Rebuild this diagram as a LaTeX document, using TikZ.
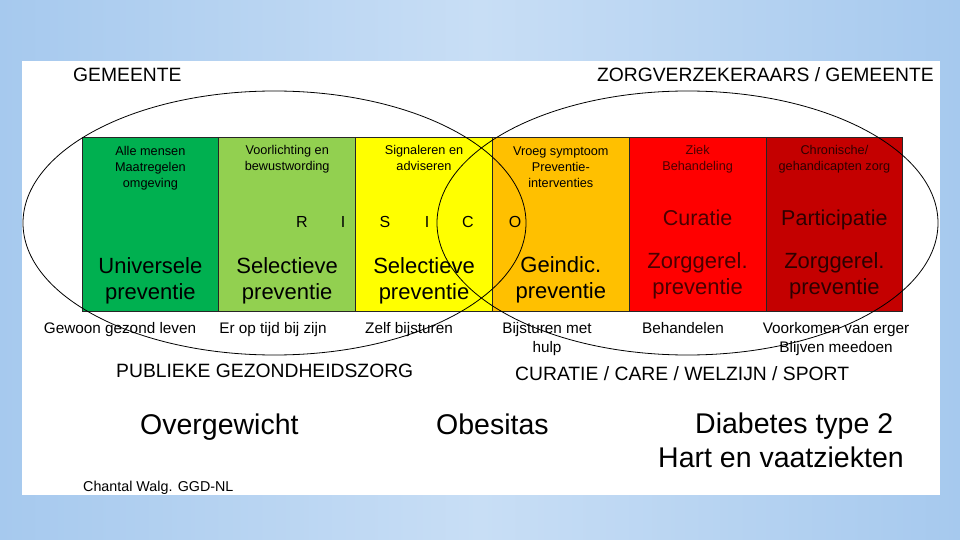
\documentclass[tikz,border=0pt]{standalone}
\usepackage{fontspec}
\setmainfont{Liberation Sans}
\definecolor{skyA}{HTML}{A6C9EE}
\definecolor{skyB}{HTML}{C8DEF5}
\definecolor{c1}{HTML}{00B050}
\definecolor{c2}{HTML}{92D050}
\definecolor{c3}{HTML}{FFFF00}
\definecolor{c4}{HTML}{FFC000}
\definecolor{c5}{HTML}{FF0000}
\definecolor{c6}{HTML}{C40000}
\definecolor{t5}{HTML}{4A0000}
\definecolor{t6}{HTML}{2E0000}
\begin{document}
\begin{tikzpicture}[x=1pt,y=-1pt,
  colbox/.style={draw=black!85, line width=0.8pt, anchor=north west, inner sep=0pt, outer sep=0pt,
                 minimum width=136.8pt, minimum height=174pt},
  toptxt/.style={font=\fontsize{12.7}{16}\selectfont, align=center, anchor=base, inner sep=0pt},
  bigtxt/.style={font=\fontsize{22}{26.5}\selectfont, align=center, anchor=base, inner sep=0pt},
  midtxt/.style={font=\fontsize{21.5}{26}\selectfont, anchor=base, inner sep=0pt},
  letter/.style={font=\fontsize{16}{19}\selectfont, anchor=base, inner sep=0pt},
  lowtxt/.style={font=\fontsize{15.3}{19}\selectfont, align=center, anchor=base, inner sep=0pt},
  head/.style={font=\fontsize{19.3}{22}\selectfont, inner sep=0pt},
  bottxt/.style={font=\fontsize{28.5}{34}\selectfont, inner sep=0pt},
  ell/.style={draw=black, line width=0.8pt}
]
\useasboundingbox (0,0) rectangle (960,540);
\shade[left color=skyA, right color=skyA, middle color=skyB] (0,0) rectangle (960,540);
\fill[white] (22,61) rectangle (940,495);

% columns
\node[colbox, fill=c1] (k1) at (82,137) {};
\node[colbox, fill=c2] (k2) at (218.8,137) {};
\node[colbox, fill=c3] (k3) at (355.6,137) {};
\node[colbox, fill=c4] (k4) at (492.4,137) {};
\node[colbox, fill=c5] (k5) at (629.2,137) {};
\node[colbox, fill=c6] (k6) at (766,137) {};

% top texts (anchor base = baseline of last line)
\node[toptxt] (a1) at (150.4,187) {Alle mensen\\Maatregelen\\omgeving};
\node[toptxt] (a2) at (287.2,171) {Voorlichting en\\bewustwording};
\node[toptxt] (a3) at (424,171) {Signaleren en\\adviseren};
\node[toptxt] (a4) at (560.8,187) {Vroeg symptoom\\Preventie-\\interventies};
\node[toptxt, text=t5] (a5) at (697.6,171) {Ziek\\Behandeling};
\node[toptxt, text=t6] (a6) at (834.4,171) {Chronische/\\gehandicapten zorg};

% RISICO
\node[letter] (lR) at (302,227) {R};
\node[letter] (lI1) at (343,227) {I};
\node[letter] (lS) at (385,227) {S};
\node[letter] (lI2) at (427,227) {I};
\node[letter] (lC) at (468,227) {C};
\node[letter] (lO) at (515,227) {O};
\node[midtxt, text=t5] (m5) at (697.6,225) {Curatie};
\node[midtxt, text=t6] (m6) at (834.4,225) {Participatie};

% big texts
\node[bigtxt] (b1) at (150.4,299.5) {Universele\\preventie};
\node[bigtxt] (b2) at (287.2,299.5) {Selectieve\\preventie};
\node[bigtxt] (b3) at (424,299.5) {Selectieve\\preventie};
\node[bigtxt] (b4) at (560.8,298.5) {Geindic.\\preventie};
\node[bigtxt, text=t5] (b5) at (697.6,294.5) {Zorggerel.\\preventie};
\node[bigtxt, text=t6] (b6) at (834.4,294.5) {Zorggerel.\\preventie};

% lower labels
\node[lowtxt] (u1) at (120,333) {Gewoon gezond leven};
\node[lowtxt] (u2) at (273,333) {Er op tijd bij zijn};
\node[lowtxt] (u3) at (409,333) {Zelf bijsturen};
\node[lowtxt] (u4) at (547,352) {Bijsturen met\\hulp};
\node[lowtxt] (u5) at (683,333) {Behandelen};
\node[lowtxt] (u6) at (836,352) {Voorkomen van erger\\Blijven meedoen};

% ellipses
\draw[ell] (274.5,223) ellipse [x radius=251.5, y radius=132];
\draw[ell] (687.5,223) ellipse [x radius=250.5, y radius=132];

% headings
\node[head, anchor=base west] (h1) at (73,82) {GEMEENTE};
\node[head, anchor=base east] (h2) at (934,82) {ZORGVERZEKERAARS / GEMEENTE};
\node[head, anchor=base west] (h3) at (116,377) {PUBLIEKE GEZONDHEIDSZORG};
\node[head, anchor=base west] (h4) at (515,380) {CURATIE / CARE / WELZIJN / SPORT};

% bottom
\node[bottxt, anchor=base west] (o1) at (140,434) {Overgewicht};
\node[bottxt, anchor=base west] (o2) at (436,434) {Obesitas};
\node[bottxt, anchor=base west] (o3) at (695,433) {Diabetes type 2};
\node[bottxt, anchor=base west] (o4) at (658,467) {Hart en vaatziekten};
\node[font=\fontsize{14.3}{16}\selectfont, anchor=base west, inner sep=0pt] (cw) at (83,491) {Chantal Walg. GGD-NL};
\end{tikzpicture}
\end{document}
